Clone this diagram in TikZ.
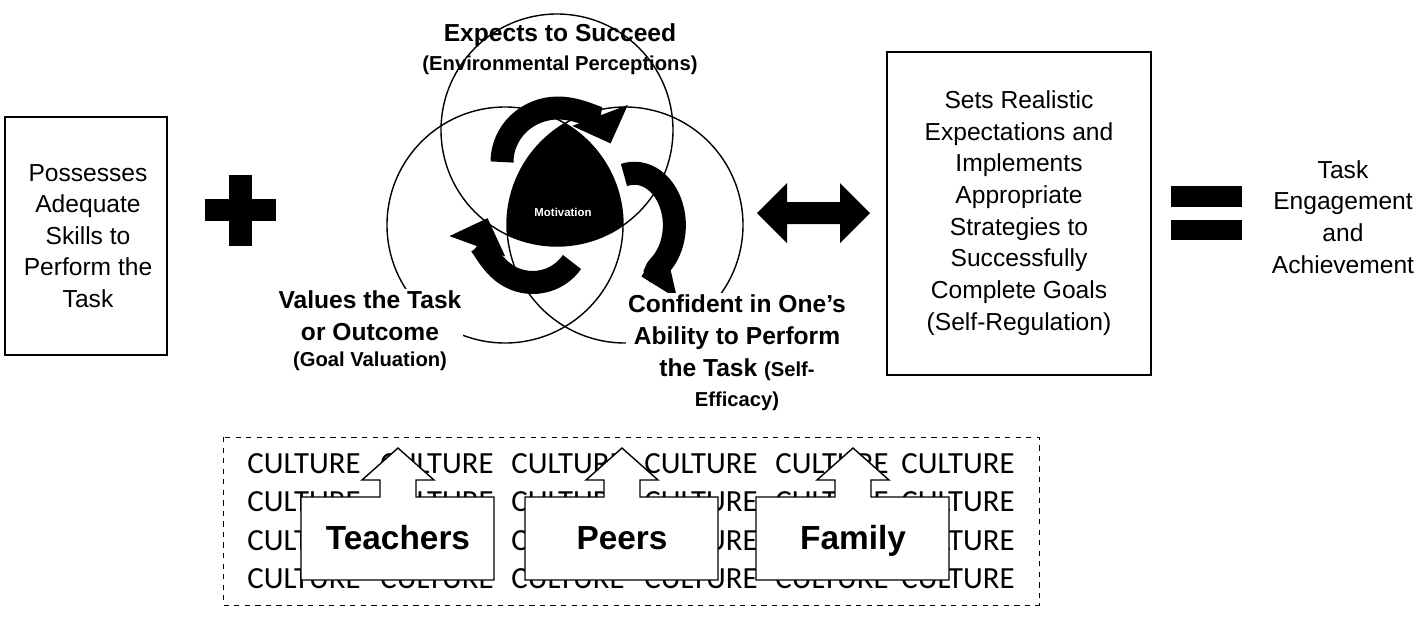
\documentclass[tikz,border=0pt]{standalone}
\usepackage{fontspec}
\setmainfont{Liberation Sans}
\newfontfamily\calib{Carlito}
\usetikzlibrary{arrows.meta}
\tikzset{
  txt/.style={align=center, font=\fontsize{14}{18}\selectfont},
  lbl/.style={align=center, font=\fontsize{14}{18}\selectfont\bfseries},
  sub/.style={font=\fontsize{11.5}{14}\selectfont\bfseries},
  cult/.style={font=\calib\fontsize{17.5}{20}\selectfont, inner sep=0pt},
  cycle/.style={line width=0.46cm, -{Triangle[length=0.6cm,width=1.15cm]}},
  callout/.style={draw, fill=white, thick},
}
\begin{document}
\begin{tikzpicture}[x=0.02cm, y=-0.02cm]
        \useasboundingbox (0,0) rectangle (1428,620);
        % left box
        \draw [thick] (5,117) rectangle (167,355);
        \node [txt] (skills) at (88,236) {Possesses\\Adequate\\Skills to\\Perform the\\Task};
        % plus
        \fill (205,199) rectangle (276,221);
        \fill (229,175) rectangle (252,246);
        % three circles
        \coordinate (cexp) at (557,130);
        \coordinate (cval) at (505,225);
        \coordinate (ccon) at (625,225);
        \begin{scope}
          \clip (cexp) circle (116);
          \clip (cval) circle (118);
          \fill (ccon) circle (118);
        \end{scope}
        \draw [thick] (cexp) circle (116);
        \draw [thick] (cval) circle (118);
        \draw [thick] (ccon) circle (118);
        % cycle arrows
        \draw [cycle] (502,162) arc (-180:-20:56 and 54);
        \draw [cycle] (624,175) arc (-105:80:40 and 52);
        \draw [cycle] (572,262) arc (35:200:48 and 48);
        \node [text=white, font=\fontsize{6.5}{8}\selectfont\bfseries] (motiv) at (563,212) {Motivation};
        % labels
        \node [lbl] (expects) at (560,35) {Expects to Succeed};
        \node [sub] (envir) at (560,65) {(Environmental Perceptions)};
        \node [lbl, fill=white, inner sep=1pt] (values) at (370,316) {Values the Task\\or Outcome};
        \node [sub] (goalval) at (370,361) {(Goal Valuation)};
        \node [lbl, fill=white, inner sep=1pt] (conf) at (737,322) {Confident in One's\\Ability to Perform};
        \node [lbl] (conf3) at (737,370) {the Task {\fontsize{11.5}{14}\selectfont(Self-}};
        \node [sub] (conf4) at (737,401) {Efficacy)};
        % double arrow
        \fill (757,213) -- (787,183) -- (787,202) -- (840,202) -- (840,183) -- (870,213)
              -- (840,243) -- (840,224) -- (787,224) -- (787,243) -- cycle;
        % right box
        \draw [thick] (887,52) rectangle (1151,375);
        \node [txt] (regul) at (1019,213) {Sets Realistic\\Expectations and\\Implements\\Appropriate\\Strategies to\\Successfully\\Complete Goals\\(Self-Regulation)};
        % equals
        \fill (1171,186) rectangle (1242,207);
        \fill (1171,220) rectangle (1242,240);
        \node [txt] (engage) at (1343,217) {Task\\Engagement\\and\\Achievement};
        % culture
        \draw [dashed] (223,437) rectangle (1039,605);
        \foreach \y [count=\r] in {464,502,541,579}
          \foreach \x [count=\c] in {304,437,568,701,832,958}
            \node [cult] (cult\r\c) at (\x,\y) {CULTURE};
        \foreach \xc/\who in {398/Teachers,622/Peers,853/Family} {
          \draw [callout] (\xc-97,497) -- (\xc-18,497) -- (\xc-18,480) -- (\xc-36,480) -- (\xc,448)
                -- (\xc+36,480) -- (\xc+18,480) -- (\xc+18,497) -- (\xc+96,497)
                -- (\xc+96,580) -- (\xc-97,580) -- cycle;
          \node [font=\fontsize{19}{22}\selectfont\bfseries, anchor=base] (\who) at (\xc,549) {\who};
        }
\end{tikzpicture}
\end{document}
